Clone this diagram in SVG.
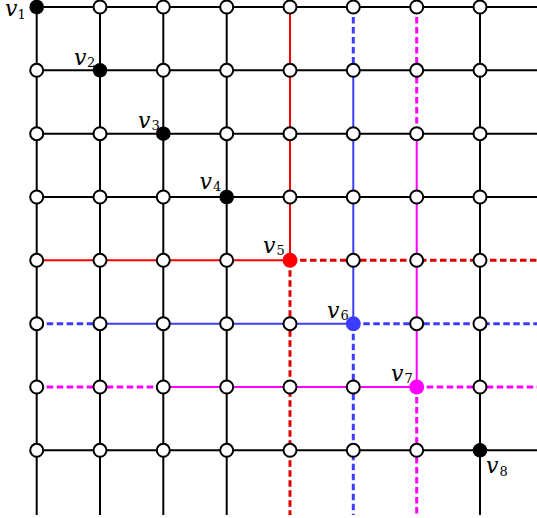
<svg xmlns="http://www.w3.org/2000/svg" width="537" height="518" viewBox="0 0 537 518">
<style>
.k{stroke:#000;stroke-width:2;fill:none}
.r{stroke:#ff0000;stroke-width:2;fill:none}
.rd{stroke:#e00000;stroke-width:3;stroke-dasharray:6.5 3.5;fill:none}
.b{stroke:#3c3cff;stroke-width:2;fill:none}
.bd{stroke:#3c3cff;stroke-width:3;stroke-dasharray:6.5 3.5;fill:none}
.m{stroke:#ff00ff;stroke-width:2;fill:none}
.md{stroke:#ff00ff;stroke-width:3;stroke-dasharray:6.5 3.5;fill:none}
.o{fill:#fff;stroke:#000;stroke-width:2}
.f{fill:#000}
.lv{font-family:"DejaVu Serif",serif;font-style:italic;font-size:22px;fill:#000}
.ls{font-family:"DejaVu Serif",serif;font-size:13px;fill:#000}
</style>
<g id="connectors">
<g id="black-lines">
<line class="k" x1="36.7" y1="7" x2="36.7" y2="515"/>
<line class="k" x1="100" y1="7" x2="100" y2="515"/>
<line class="k" x1="163.3" y1="7" x2="163.3" y2="515"/>
<line class="k" x1="226.7" y1="7" x2="226.7" y2="515"/>
<line class="k" x1="480" y1="7" x2="480" y2="515"/>
<line class="k" x1="36.7" y1="7" x2="537" y2="7"/>
<line class="k" x1="36.7" y1="70.3" x2="537" y2="70.3"/>
<line class="k" x1="36.7" y1="133.7" x2="537" y2="133.7"/>
<line class="k" x1="36.7" y1="197" x2="537" y2="197"/>
<line class="k" x1="36.7" y1="450.3" x2="537" y2="450.3"/>
</g>
<g id="red-lines">
<line class="r" x1="290" y1="7" x2="290" y2="260.3"/>
<line class="rd" x1="290" y1="260.3" x2="290" y2="515"/>
<line class="r" x1="36.7" y1="260.3" x2="290" y2="260.3"/>
<line class="rd" x1="290" y1="260.3" x2="537" y2="260.3"/>
</g>
<g id="blue-lines">
<line class="bd" x1="353.3" y1="7" x2="353.3" y2="70.3"/>
<line class="b" x1="353.3" y1="70.3" x2="353.3" y2="323.7"/>
<line class="bd" x1="353.3" y1="323.7" x2="353.3" y2="515"/>
<line class="bd" x1="36.7" y1="323.7" x2="100" y2="323.7"/>
<line class="b" x1="100" y1="323.7" x2="353.3" y2="323.7"/>
<line class="bd" x1="353.3" y1="323.7" x2="537" y2="323.7"/>
</g>
<g id="magenta-lines">
<line class="md" x1="416.7" y1="7" x2="416.7" y2="133.7"/>
<line class="m" x1="416.7" y1="133.7" x2="416.7" y2="387"/>
<line class="md" x1="416.7" y1="387" x2="416.7" y2="515"/>
<line class="md" x1="36.7" y1="387" x2="163.3" y2="387"/>
<line class="m" x1="163.3" y1="387" x2="416.7" y2="387"/>
<line class="md" x1="416.7" y1="387" x2="537" y2="387"/>
</g>
</g>
<g id="nodes">
<g id="row0">
<circle class="f" cx="36.7" cy="7" r="7.3"/>
<circle class="o" cx="100" cy="7" r="6.5"/>
<circle class="o" cx="163.3" cy="7" r="6.5"/>
<circle class="o" cx="226.7" cy="7" r="6.5"/>
<circle class="o" cx="290" cy="7" r="6.5"/>
<circle class="o" cx="353.3" cy="7" r="6.5"/>
<circle class="o" cx="416.7" cy="7" r="6.5"/>
<circle class="o" cx="480" cy="7" r="6.5"/>
</g>
<g id="row1">
<circle class="o" cx="36.7" cy="70.3" r="6.5"/>
<circle class="f" cx="100" cy="70.3" r="7.3"/>
<circle class="o" cx="163.3" cy="70.3" r="6.5"/>
<circle class="o" cx="226.7" cy="70.3" r="6.5"/>
<circle class="o" cx="290" cy="70.3" r="6.5"/>
<circle class="o" cx="353.3" cy="70.3" r="6.5"/>
<circle class="o" cx="416.7" cy="70.3" r="6.5"/>
<circle class="o" cx="480" cy="70.3" r="6.5"/>
</g>
<g id="row2">
<circle class="o" cx="36.7" cy="133.7" r="6.5"/>
<circle class="o" cx="100" cy="133.7" r="6.5"/>
<circle class="f" cx="163.3" cy="133.7" r="7.3"/>
<circle class="o" cx="226.7" cy="133.7" r="6.5"/>
<circle class="o" cx="290" cy="133.7" r="6.5"/>
<circle class="o" cx="353.3" cy="133.7" r="6.5"/>
<circle class="o" cx="416.7" cy="133.7" r="6.5"/>
<circle class="o" cx="480" cy="133.7" r="6.5"/>
</g>
<g id="row3">
<circle class="o" cx="36.7" cy="197" r="6.5"/>
<circle class="o" cx="100" cy="197" r="6.5"/>
<circle class="o" cx="163.3" cy="197" r="6.5"/>
<circle class="f" cx="226.7" cy="197" r="7.3"/>
<circle class="o" cx="290" cy="197" r="6.5"/>
<circle class="o" cx="353.3" cy="197" r="6.5"/>
<circle class="o" cx="416.7" cy="197" r="6.5"/>
<circle class="o" cx="480" cy="197" r="6.5"/>
</g>
<g id="row4">
<circle class="o" cx="36.7" cy="260.3" r="6.5"/>
<circle class="o" cx="100" cy="260.3" r="6.5"/>
<circle class="o" cx="163.3" cy="260.3" r="6.5"/>
<circle class="o" cx="226.7" cy="260.3" r="6.5"/>
<circle fill="#ff0000" cx="290" cy="260.3" r="7.5"/>
<circle class="o" cx="353.3" cy="260.3" r="6.5"/>
<circle class="o" cx="416.7" cy="260.3" r="6.5"/>
<circle class="o" cx="480" cy="260.3" r="6.5"/>
</g>
<g id="row5">
<circle class="o" cx="36.7" cy="323.7" r="6.5"/>
<circle class="o" cx="100" cy="323.7" r="6.5"/>
<circle class="o" cx="163.3" cy="323.7" r="6.5"/>
<circle class="o" cx="226.7" cy="323.7" r="6.5"/>
<circle class="o" cx="290" cy="323.7" r="6.5"/>
<circle fill="#3c3cff" cx="353.3" cy="323.7" r="7.5"/>
<circle class="o" cx="416.7" cy="323.7" r="6.5"/>
<circle class="o" cx="480" cy="323.7" r="6.5"/>
</g>
<g id="row6">
<circle class="o" cx="36.7" cy="387" r="6.5"/>
<circle class="o" cx="100" cy="387" r="6.5"/>
<circle class="o" cx="163.3" cy="387" r="6.5"/>
<circle class="o" cx="226.7" cy="387" r="6.5"/>
<circle class="o" cx="290" cy="387" r="6.5"/>
<circle class="o" cx="353.3" cy="387" r="6.5"/>
<circle fill="#ff00ff" cx="416.7" cy="387" r="7.5"/>
<circle class="o" cx="480" cy="387" r="6.5"/>
</g>
<g id="row7">
<circle class="o" cx="36.7" cy="450.3" r="6.5"/>
<circle class="o" cx="100" cy="450.3" r="6.5"/>
<circle class="o" cx="163.3" cy="450.3" r="6.5"/>
<circle class="o" cx="226.7" cy="450.3" r="6.5"/>
<circle class="o" cx="290" cy="450.3" r="6.5"/>
<circle class="o" cx="353.3" cy="450.3" r="6.5"/>
<circle class="o" cx="416.7" cy="450.3" r="6.5"/>
<circle class="f" cx="480" cy="450.3" r="7.3"/>
</g>
</g>
<g id="labels">
<g id="v1"><text class="lv" x="5" y="16">v</text><text class="ls" x="17.5" y="19">1</text></g>
<g id="v2"><text class="lv" x="74" y="65">v</text><text class="ls" x="87" y="67">2</text></g>
<g id="v3"><text class="lv" x="138" y="128">v</text><text class="ls" x="151.5" y="130">3</text></g>
<g id="v4"><text class="lv" x="199.5" y="188.5">v</text><text class="ls" x="213" y="190.5">4</text></g>
<g id="v5"><text class="lv" x="263" y="253">v</text><text class="ls" x="276.5" y="255">5</text></g>
<g id="v6"><text class="lv" x="327" y="317.5">v</text><text class="ls" x="340.5" y="319.5">6</text></g>
<g id="v7"><text class="lv" x="391" y="381">v</text><text class="ls" x="404.5" y="383">7</text></g>
<g id="v8"><text class="lv" x="486" y="472.5">v</text><text class="ls" x="499.5" y="475.5">8</text></g>
</g>
</svg>
